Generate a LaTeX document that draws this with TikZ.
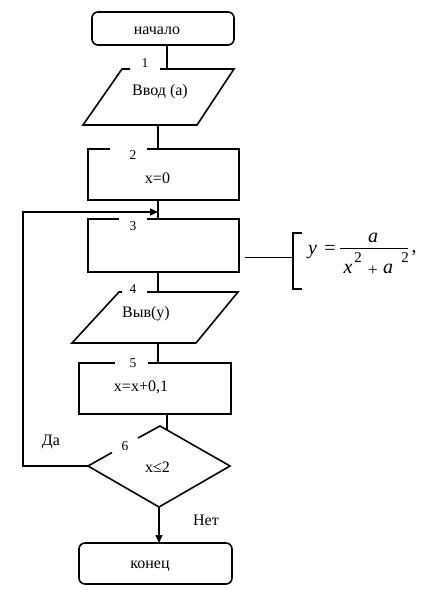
\documentclass[tikz,border=0pt]{standalone}
\usepackage{fontspec}
\setmainfont{Liberation Serif}
\usetikzlibrary{arrows.meta}
\begin{document}
\begin{tikzpicture}[x=1pt,y=-1pt,
  outline/.style={line width=1.6pt,line join=miter},
  conn/.style={line width=1.5pt},
  thinconn/.style={line width=0.8pt},
  arr/.style={conn,-{Triangle[length=8pt,width=7pt]}},
  txt/.style={font=\fontsize{16}{18}\selectfont,inner sep=0pt},
  num/.style={font=\fontsize{13.5}{15}\selectfont,inner sep=0pt},
  frm/.style={font=\fontsize{20}{22}\selectfont\itshape,inner sep=0pt},
  sup/.style={font=\fontsize{15}{17}\selectfont,inner sep=0pt}]
\useasboundingbox (0,0) rectangle (447,596);
% ---- coordinates
\coordinate (s0) at (167,45);
\coordinate (p1t) at (167,69);  \coordinate (p1b) at (158,125);
\coordinate (b2t) at (158,149); \coordinate (b2b) at (158,200);
\coordinate (b3t) at (158,219); \coordinate (b3b) at (158,272);
\coordinate (b3r) at (245,257); \coordinate (br) at (293,257);
\coordinate (p4t) at (158,292); \coordinate (p4b) at (158,343);
\coordinate (b5t) at (158,363); \coordinate (b5b) at (167,414);
\coordinate (d6t) at (167,430); \coordinate (d6l) at (88,466);
\coordinate (d6b) at (159,507); \coordinate (e0) at (159,543);
\coordinate (lp1) at (23,466); \coordinate (lp2) at (23,212);
\coordinate (lp3) at (158,212);
% ---- start
\draw[outline,rounded corners=6pt] (92,12) rectangle (234,45);
\node[txt] (start) at (157,31) {начало};
% ---- block 1
\draw[outline] (130,69) -- (122,69) -- (83,125) -- (197,125) -- (234,69) -- (160,69);
\node[num] (n1) at (145,63) {1};
\node[txt] (t1) at (160,92) {Ввод (а)};
% ---- block 2
\draw[outline] (110,149) -- (88,149) -- (88,200) -- (239,200) -- (239,149) -- (147,149);
\node[num] (n2) at (133,155) {2};
\node[txt] (t2) at (157.5,178) {x=0};
% ---- block 3
\draw[outline] (119,219) -- (88,219) -- (88,272) -- (239,272) -- (239,219) -- (147,219);
\node[num] (n3) at (133,226) {3};
% ---- block 4
\draw[outline] (122,292) -- (119,292) -- (72,343) -- (196,343) -- (238,292) -- (147,292);
\node[num] (n4) at (133,289) {4};
\node[txt] (t4) at (146,314) {Выв(у)};
% ---- block 5
\draw[outline] (115,363) -- (79,363) -- (79,414) -- (231,414) -- (231,363) -- (148,363);
\node[num] (n5) at (133,363) {5};
\node[txt] (t5) at (141,387) {x=x+0,1};
% ---- block 6 (decision)
\draw[outline] (112,452.5) -- (88,466) -- (159,507) -- (230,466) -- (160,426) -- (138,438);
\node[num] (n6) at (125,446) {6};
\node[txt] (t6) at (157.5,467) {x≤2};
% ---- end
\draw[outline,rounded corners=6pt] (79,543) rectangle (232,584);
\node[txt] (end) at (150,566) {конец};
% ---- connectors
\draw[conn] (s0) -- (p1t);
\draw[conn] (p1b) -- (b2t);
\draw[conn] (b2b) -- (b3t);
\draw[conn] (b3b) -- (p4t);
\draw[conn] (p4b) -- (b5t);
\draw[conn] (b5b) -- (d6t);
\draw[arr] (d6b) -- (e0);
\draw[arr] (d6l) -- (lp1) -- (lp2) -- (lp3);
\node[txt] (yes) at (51,442) {Да};
\node[txt] (no) at (206,520) {Нет};
% ---- comment with formula
\draw[thinconn] (b3r) -- (br);
\draw[outline] (302,233) -- (293,233) -- (293,289) -- (302,289);
\node[frm] (fy) at (312.5,252) {y};
\node[font=\fontsize{20}{22}\selectfont,inner sep=0pt] (feq) at (330,250) {=};
\node[frm] (fa) at (373,238) {a};
\draw[line width=0.9pt] (340,248) -- (408,248);
\node[frm] (fx) at (348,269) {x};
\node[sup] (fs1) at (358,258) {2};
\node[font=\fontsize{17}{19}\selectfont,inner sep=0pt] (fp) at (373,271) {+};
\node[frm] (fa2) at (388,269) {a};
\node[sup] (fs2) at (405,258) {2};
\node[font=\fontsize{20}{22}\selectfont,inner sep=0pt] (fc) at (414,253) {,};
\end{tikzpicture}
\end{document}
